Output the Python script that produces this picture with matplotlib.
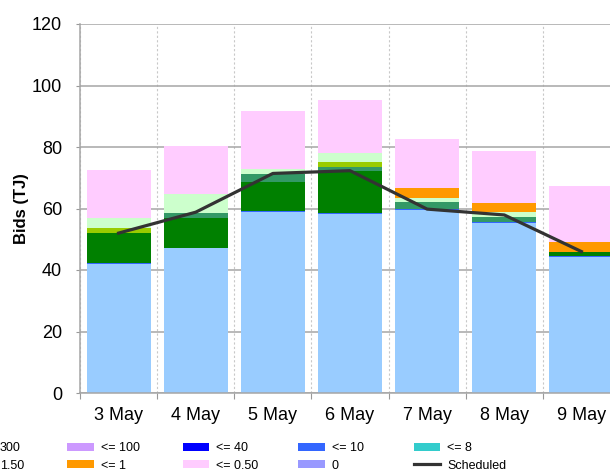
import matplotlib
matplotlib.use("Agg")
import matplotlib.pyplot as plt
import numpy as np
from matplotlib.patches import Patch
from matplotlib.lines import Line2D

plt.rcParams['font.family'] = ['Liberation Sans', 'DejaVu Sans']

# Data (TJ)
days = ['3 May', '4 May', '5 May', '6 May', '7 May', '8 May', '9 May']

# stacked layers, bottom to top
band_light_blue = [42.0, 47.0, 58.8, 58.2, 59.5, 55.4, 44.3]
band_blue = [0.3, 0.3, 0.3, 0.3, 0.3, 0.3, 0.3]
band_dark_green = [9.8, 9.7, 9.6, 13.8, 0.0, 0.0, 1.4]
band_sea_green = [0.0, 1.6, 2.5, 1.3, 2.4, 1.6, 0.0]
band_yellow_green = [1.4, 0.0, 0.0, 1.5, 0.0, 0.0, 0.0]
band_light_green = [3.5, 6.2, 1.5, 3.0, 1.3, 1.5, 0.0]
band_orange = [0.0, 0.0, 0.0, 0.0, 3.1, 2.9, 3.2]
band_pink = [15.5, 15.4, 19.0, 17.2, 16.0, 17.0, 18.2]

scheduled = [52.0, 58.8, 71.4, 72.3, 59.8, 57.9, 46.0]

layers = [
    (band_light_blue, '#99CCFF'),
    (band_blue, '#3366FF'),
    (band_dark_green, '#008000'),
    (band_sea_green, '#339966'),
    (band_yellow_green, '#99CC00'),
    (band_light_green, '#CCFFCC'),
    (band_orange, '#FF9900'),
    (band_pink, '#FFCCFF'),
]

W, H = 610, 476
fig = plt.figure(figsize=(W / 100, H / 100), dpi=100)
ax = fig.add_axes([80 / W, (H - 393) / H, 540 / W, 369 / H])

x = np.arange(len(days))
bottom = np.zeros(len(days))
for vals, col in layers:
    ax.bar(x, vals, width=0.83, bottom=bottom, color=col, edgecolor='none', zorder=2)
    bottom += np.array(vals)

ax.plot(x, scheduled, color='#333333', lw=2.3, zorder=3)

ax.set_xlim(-0.5, len(days) - 0.5)
ax.set_ylim(0, 120)
ax.set_yticks(np.arange(0, 121, 20))
ax.set_xticks(np.arange(len(days) + 1) - 0.5)
ax.set_xticklabels([])
ax.set_xticks(x, minor=True)
ax.set_xticklabels(days, minor=True)
ax.tick_params(axis='x', which='minor', length=0, pad=10, labelsize=13)
ax.tick_params(axis='x', which='major', length=4, color='#999999', direction='out')
ax.tick_params(axis='y', length=3, color='#999999', pad=10, labelsize=13)

ax.grid(axis='y', color='#A6A6A6', lw=1.1, zorder=0)
ax.grid(axis='x', which='major', color='#C8C8C8', lw=0.8, ls=(0, (2, 2)), zorder=0)
for s in ['top', 'right']:
    ax.spines[s].set_visible(False)
for s in ['left', 'bottom']:
    ax.spines[s].set_color('#A6A6A6')
    ax.spines[s].set_linewidth(1.1)

ax.set_ylabel('Bids (TJ)', fontsize=12, fontweight='bold', labelpad=2)

# legend: fixed-pitch columns like the original
leg_cols = [
    [('300', '#CC99CC', 'patch'), ('1.50', '#FFCC99', 'patch')],
    [('<= 100', '#CC99FF', 'patch'), ('<= 1', '#FF9900', 'patch')],
    [('<= 40', '#0000FF', 'patch'), ('<= 0.50', '#FFCCFF', 'patch')],
    [('<= 10', '#3366FF', 'patch'), ('0', '#9999FF', 'patch')],
    [('<= 8', '#33CCCC', 'patch'), ('Scheduled', '#333333', 'line')],
]
col_x = [-34, 67, 182.5, 298, 413.5]
for cx, entries in zip(col_x, leg_cols):
    handles = []
    for lab, col, kind in entries:
        if kind == 'line':
            handles.append(Line2D([], [], color=col, lw=2.3, label=lab))
        else:
            handles.append(Patch(facecolor=col, edgecolor='none', label=lab))
    fig.legend(handles=handles, loc='upper left', bbox_to_anchor=(cx / W, 1 - 442 / H),
               frameon=False, fontsize=9, handlelength=2.15, handleheight=0.6,
               handletextpad=0.55, labelspacing=0.45, borderpad=0, borderaxespad=0)

fig.savefig('out.png', dpi=100)
